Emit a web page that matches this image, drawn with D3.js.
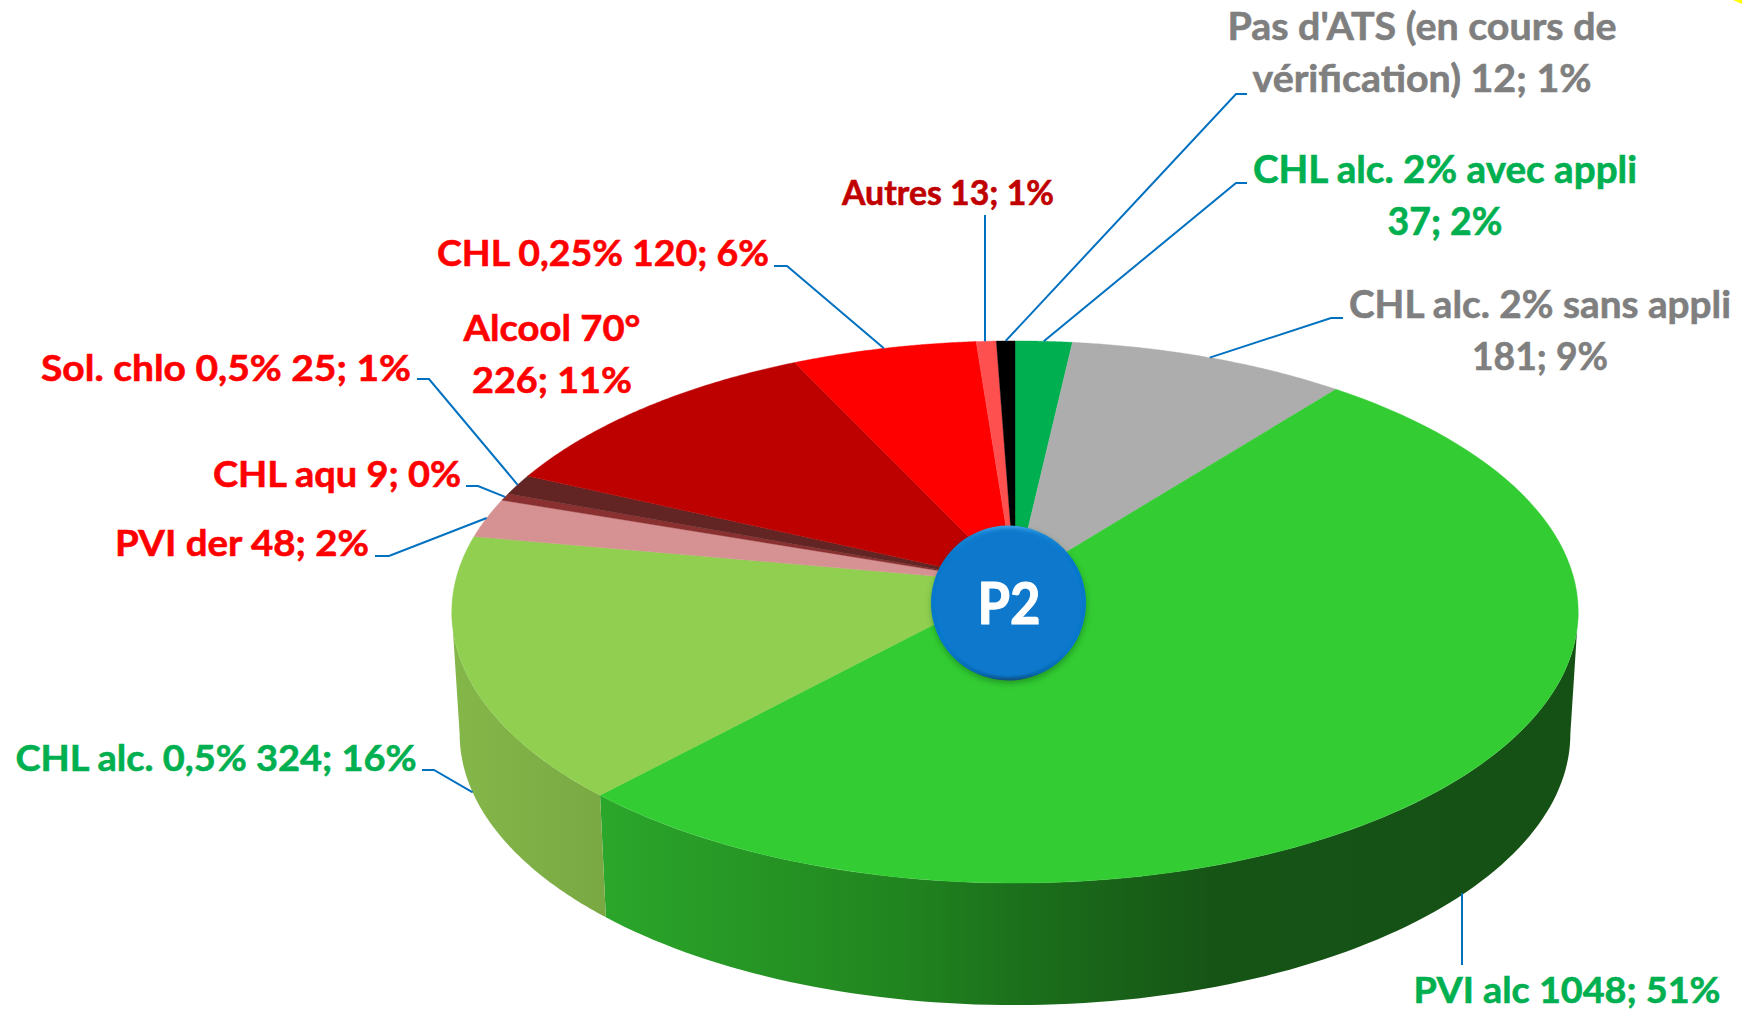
<!DOCTYPE html>
<html lang="fr">
<head>
<meta charset="utf-8">
<title>P2</title>
<script src="https://cdn.jsdelivr.net/npm/d3@7"></script>
<style>
html,body{margin:0;padding:0;background:#fff;overflow:hidden}
text{font-family:Lato,"Open Sans",sans-serif;font-weight:700}
</style>
</head>
<body>
<svg id="chart" width="1742" height="1011" viewBox="0 0 1742 1011"></svg>
<script>
// ---- data ----
const categories = ["CHL alc. 2% avec appli","CHL alc. 2% sans appli","PVI alc","CHL alc. 0,5%","PVI der","CHL aqu","Sol. chlo 0,5%","Alcool 70°","CHL 0,25%","Autres","Pas d'ATS (en cours de vérification)"];
const values = [37,181,1048,324,48,9,25,226,120,13,12];
const percents = [2,9,51,16,2,0,1,11,6,1,1];
const sliceColors = ["#00b050","#adadad","#33cc33","#90cf50","#d69292","#8b3030","#632523","#bd0000","#ff0000","#ff5050","#000000"];
const labelColors = ["#00b050","#7f7f7f","#00b050","#00b050","#ff0000","#ff0000","#ff0000","#ff0000","#ff0000","#c00000","#7f7f7f"];
const labelLines = [
  ["CHL alc. 2% avec appli","37; 2%"],
  ["CHL alc. 2% sans appli","181; 9%"],
  ["PVI alc 1048; 51%"],
  ["CHL alc. 0,5% 324; 16%"],
  ["PVI der 48; 2%"],
  ["CHL aqu 9; 0%"],
  ["Sol. chlo 0,5% 25; 1%"],
  ["Alcool 70°","226; 11%"],
  ["CHL 0,25% 120; 6%"],
  ["Autres 13; 1%"],
  ["Pas d'ATS (en cours de","vérification) 12; 1%"]
];

// ---- layout (label centre / first baseline, line widths, font sizes, leader elbows) ----
const labelX = [1445,1540,1567,216,242,337,226,552,603,948,1422];
const labelY = [183,318,1003,771,556,487,381,341,266,205,40];
const labelWidths = [[384,115],[382,136],[307],[401],[254],[248],[370],[177,160],[332],[212],[389,339]];
const labelFont = [38,38,37,37,37,37,37,37,37,34,38];
const elbows = [
  [[1247,183],[1236,183]],
  [[1343,318],[1331,318]],
  [[1462,965]],
  [[422,770],[434,770]],
  [[375,556],[389,556]],
  [[466,486],[478,486]],
  [[417,379],[429,379]],
  [],
  [[774,266],[787,266]],
  [[985,215]],
  [[1247,94],[1236,94]]
];
const onBottom = [false,false,true,true,false,false,false,false,false,false,false];

// perspective disc
const cx = 1015, apexY = 583, a = 560, b = 268, k = 0.107, depth = 122, bottomScale = 0.986;
const project = (t, lower) => {
  const u = Math.sin(t), v = -Math.cos(t), d = 1 - k*v;
  const x = a*u/d, y = b*v/d;
  return lower ? [cx + x*bottomScale, apexY + y + depth] : [cx + x, apexY + y];
};
const sample = (t0, t1, lower) => d3.range(0, 101).map(i => project(t0 + (t1-t0)*i/100, lower));
const line = d3.line();

const svg = d3.select("#chart");
const pie = d3.pie().sort(null)(values);
const defs = svg.append("defs");

// ---- side gradients ----
const gradX = d3.scaleLinear().domain([0,1]).range([440,1580]);
const addGrad = (id, stops) => {
  const g = defs.append("linearGradient").attr("id",id).attr("gradientUnits","userSpaceOnUse")
    .attr("x1",gradX(0)).attr("x2",gradX(1)).attr("y1",0).attr("y2",0);
  stops.forEach(s => g.append("stop").attr("offset",s[0]).attr("stop-color",s[1]));
};
addGrad("sidePVI",[[0.14,"#2ba72b"],[0.40,"#21851f"],[0.52,"#1b6e1b"],[0.68,"#165416"],[1,"#155015"]]);
addGrad("sideCHL",[[0,"#85b84a"],[0.15,"#79a843"]]);

const rim = defs.append("linearGradient").attr("id","btnRim").attr("x1",0).attr("x2",0).attr("y1",0).attr("y2",1);
[[0,"#3d9fe6"],[0.06,"#1a86d6"],[0.2,"#0878cc"],[0.8,"#0878cc"],[0.95,"#0868b0"],[1,"#134f80"]].forEach(s => rim.append("stop").attr("offset",s[0]).attr("stop-color",s[1]));
const blur = defs.append("filter").attr("id","btnShadow").attr("x","-20%").attr("y","-20%").attr("width","140%").attr("height","140%");
blur.append("feGaussianBlur").attr("stdDeviation",3);
const soft = defs.append("filter").attr("id","btnSoft").attr("x","-10%").attr("y","-10%").attr("width","120%").attr("height","120%");
soft.append("feGaussianBlur").attr("stdDeviation",1.6);

// corner mark
svg.append("path").attr("d", line([[1733,0],[1742,0],[1742,4]])).attr("fill","#ffff00");

// ---- side walls (visible front part only) ----
const tStart = Math.PI - Math.acos(k), tEnd = 2*Math.PI - tStart;
const sides = [[2,"url(#sidePVI)"],[3,"url(#sideCHL)"]];
svg.append("g").selectAll("path").data(sides).join("path")
  .attr("d", ([i]) => {
    const t0 = Math.max(pie[i].startAngle, tStart), t1 = Math.min(pie[i].endAngle, tEnd);
    return line(sample(t0,t1,false).concat(sample(t0,t1,true).reverse())) + "Z";
  })
  .attr("fill", d => d[1]);

// ---- top slices ----
svg.append("g").selectAll("path").data(pie).join("path")
  .attr("d", d => line([[cx,apexY]].concat(sample(d.startAngle,d.endAngle,false))) + "Z")
  .attr("fill", (d,i) => sliceColors[i])
  .attr("stroke", (d,i) => sliceColors[i]).attr("stroke-width",0.4);

// ---- leader lines ----
svg.append("g").selectAll("path").data(pie).join("path")
  .filter((d,i) => elbows[i].length > 0)
  .attr("d", d => {
    const mid = (d.startAngle + d.endAngle)/2;
    const anchor = project(mid, onBottom[d.index]);
    if (elbows[d.index].length === 1) anchor[0] = elbows[d.index][0][0];
    return line(elbows[d.index].concat([anchor]));
  })
  .attr("fill","none").attr("stroke","#0070c0").attr("stroke-width",2);

// ---- labels ----
const lineGap = 52;
const labels = svg.append("g").selectAll("text").data(categories).join("text")
  .attr("text-anchor","middle")
  .attr("font-size",(d,i) => labelFont[i])
  .attr("fill",(d,i) => labelColors[i])
  .attr("stroke",(d,i) => labelColors[i]).attr("stroke-width",0.6);
labels.each(function(d,i){
  d3.select(this).selectAll("tspan").data(labelLines[i]).join("tspan")
    .attr("x",labelX[i]).attr("y",(l,j) => labelY[i] + j*lineGap)
    .attr("textLength",(l,j) => labelWidths[i][j]).attr("lengthAdjust","spacingAndGlyphs")
    .text(l => l);
});

// ---- centre button ----
const btn = svg.append("g");
btn.append("circle").attr("cx",1009).attr("cy",606).attr("r",77).attr("fill","#0f5c14").attr("opacity",0.5).attr("filter","url(#btnShadow)");
btn.append("circle").attr("cx",1008.5).attr("cy",603).attr("r",77.5).attr("fill","url(#btnRim)");
btn.append("circle").attr("cx",1008.5).attr("cy",603).attr("r",74).attr("fill","#0878cc").attr("filter","url(#btnSoft)");
btn.append("text").attr("x",1009).attr("y",624).attr("text-anchor","middle").attr("font-size",57).attr("textLength",63).attr("lengthAdjust","spacingAndGlyphs")
  .attr("fill","#ffffff").attr("stroke","#ffffff").attr("stroke-width",1.2).text("P2");
</script>
</body>
</html>
